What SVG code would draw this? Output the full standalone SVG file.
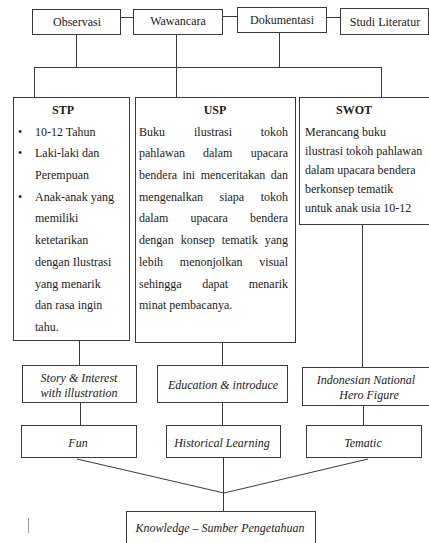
<svg xmlns="http://www.w3.org/2000/svg" width="429" height="543" viewBox="0 0 429 543">
<style>
.box{fill:#fff;stroke:#3a3a3a;stroke-width:1}
.ln{fill:none;stroke:#3a3a3a;stroke-width:1}
text{font-size:12px;fill:#1a1a1a}
.c{text-anchor:middle}
.e{text-anchor:end}
.b{font-weight:bold}
.i{font-style:italic}
</style>
<rect width="429" height="543" fill="#fff"/>
<g id="connectors">
<line class="ln" x1="121" y1="17.5" x2="133" y2="17.5"/>
<line class="ln" x1="223" y1="16.5" x2="237" y2="16.5"/>
<line class="ln" x1="327" y1="17.5" x2="340" y2="17.5"/>
<line class="ln" x1="76.5" y1="34" x2="76.5" y2="67.5"/>
<line class="ln" x1="176.5" y1="35" x2="176.5" y2="97"/>
<line class="ln" x1="279.5" y1="33" x2="279.5" y2="67.5"/>
<line class="ln" x1="34" y1="67.5" x2="382" y2="67.5"/>
<line class="ln" x1="34.5" y1="67.5" x2="34.5" y2="97"/>
<line class="ln" x1="381.5" y1="67.5" x2="381.5" y2="97"/>
<line class="ln" x1="79.5" y1="340" x2="79.5" y2="365"/>
<line class="ln" x1="222.5" y1="342" x2="222.5" y2="365"/>
<line class="ln" x1="362.5" y1="225" x2="362.5" y2="367"/>
<line class="ln" x1="80.5" y1="403" x2="80.5" y2="425"/>
<line class="ln" x1="222.5" y1="403" x2="222.5" y2="425"/>
<line class="ln" x1="363.5" y1="406" x2="363.5" y2="425"/>
<line class="ln" x1="77" y1="459" x2="224" y2="493"/>
<line class="ln" x1="368" y1="459" x2="224" y2="493"/>
<line class="ln" x1="223.5" y1="457" x2="223.5" y2="511"/>
</g>
<g font-family="'Liberation Serif', 'DejaVu Serif', serif">
<g id="observasi"><rect class="box" x="32.5" y="9.5" width="88" height="25"/><text class="c" x="77" y="26">Observasi</text></g>
<g id="wawancara"><rect class="box" x="133.5" y="9.5" width="89" height="25"/><text class="c" x="178" y="25">Wawancara</text></g>
<g id="dokumentasi"><rect class="box" x="237.5" y="7.5" width="89" height="25"/><text class="c" x="282" y="24">Dokumentasi</text></g>
<g id="studi-literatur"><rect class="box" x="340.5" y="8.5" width="88" height="26"/><text class="c" x="385" y="26">Studi Literatur</text></g>
<g id="stp"><rect class="box" x="13.5" y="97.5" width="116" height="243"/>
<text class="c b" x="63" y="114">STP</text>
<text x="18" y="136">•</text><text x="35" y="136">10-12 Tahun</text>
<text x="18" y="157">•</text><text x="35" y="157">Laki-laki dan</text>
<text x="35" y="179">Perempuan</text>
<text x="18" y="201">•</text><text x="35" y="201">Anak-anak yang</text>
<text x="35" y="222">memiliki</text>
<text x="35" y="244">ketetarikan</text>
<text x="35" y="266">dengan Ilustrasi</text>
<text x="35" y="288">yang menarik</text>
<text x="35" y="309">dan rasa ingin</text>
<text x="35" y="331">tahu.</text>
</g>
<g id="usp"><rect class="box" x="135.5" y="97.5" width="160" height="245"/>
<text class="c b" x="215" y="114">USP</text>
<text x="139" y="136">Buku</text><text x="194" y="136">ilustrasi</text><text class="e" x="288" y="136">tokoh</text>
<text x="139" y="157">pahlawan</text><text x="203" y="157">dalam</text><text class="e" x="288" y="157">upacara</text>
<text x="139" y="179">bendera</text><text x="182.5" y="179">ini</text><text x="200.7" y="179">menceritakan</text><text class="e" x="288" y="179">dan</text>
<text x="139" y="201">mengenalkan</text><text x="219.5" y="201">siapa</text><text class="e" x="288" y="201">tokoh</text>
<text x="139" y="222">dalam</text><text x="190.5" y="222">upacara</text><text class="e" x="288" y="222">bendera</text>
<text x="139" y="244">dengan</text><text x="180.7" y="244">konsep</text><text x="221.7" y="244">tematik</text><text class="e" x="288" y="244">yang</text>
<text x="139" y="266">lebih</text><text x="179.8" y="266">menonjolkan</text><text class="e" x="288" y="266">visual</text>
<text x="139" y="288">sehingga</text><text x="202.2" y="288">dapat</text><text class="e" x="288" y="288">menarik</text>
<text x="139" y="309">minat pembacanya.</text>
</g>
<g id="swot"><rect class="box" x="299.5" y="97.5" width="131" height="127"/>
<text class="c b" x="354" y="114">SWOT</text>
<text x="305" y="136">Merancang buku</text>
<text x="305" y="155">ilustrasi tokoh pahlawan</text>
<text x="305" y="174">dalam upacara bendera</text>
<text x="305" y="193">berkonsep tematik</text>
<text x="305" y="212">untuk anak usia 10-12</text>
</g>
<g id="story"><rect class="box" x="22.5" y="365.5" width="114" height="37"/><text class="c i" x="79" y="382">Story &amp; Interest</text><text class="c i" x="79" y="397">with illustration</text></g>
<g id="education"><rect class="box" x="157.5" y="365.5" width="130" height="37"/><text class="c i" x="223" y="389">Education &amp; introduce</text></g>
<g id="hero"><rect class="box" x="302.5" y="367.5" width="128" height="38"/><text class="c i" x="366" y="384">Indonesian National</text><text class="c i" x="369" y="399">Hero Figure</text></g>
<g id="fun"><rect class="box" x="21.5" y="425.5" width="115" height="32"/><text class="c i" x="78" y="447">Fun</text></g>
<g id="historical"><rect class="box" x="166.5" y="425.5" width="114" height="32"/><text class="c i" x="222" y="447">Historical Learning</text></g>
<g id="tematic"><rect class="box" x="306.5" y="425.5" width="115" height="32"/><text class="c i" x="363" y="447">Tematic</text></g>
<g id="knowledge"><rect class="box" x="126.5" y="511.5" width="189" height="40"/><text class="c i" x="220" y="532">Knowledge – Sumber Pengetahuan</text></g>
</g>
<line x1="28.5" y1="518" x2="28.5" y2="533" stroke="#999" stroke-width="1"/>
</svg>
